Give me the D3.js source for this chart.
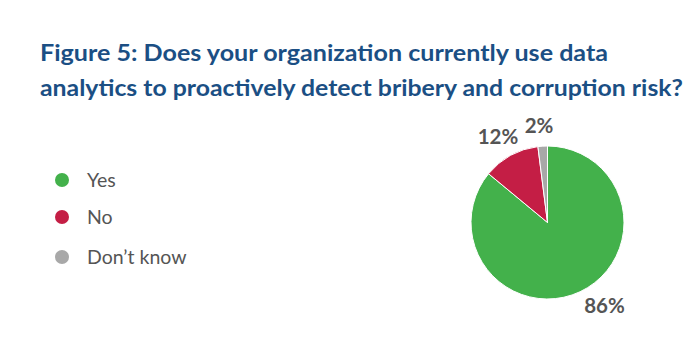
<!DOCTYPE html>
<html><head><meta charset="utf-8">
<script src="https://cdn.jsdelivr.net/npm/d3@7"></script>
<style>body{margin:0;background:#fff}svg{display:block}</style>
</head><body>
<script>
const categories = ["Yes", "No", "Don’t know"];
const values = [86, 12, 2];
const labels = ["86%", "12%", "2%"];
const colors = ["#43b14b", "#c41e45", "#a8a8a8"];
const titleLines = ["Figure 5: Does your organization currently use data", "analytics to proactively detect bribery and corruption risk?"];

const W = 700, H = 359;
const svg = d3.select("body").append("svg").attr("width", W).attr("height", H);

const titleLens = [568, 643];
svg.selectAll("text.title").data(titleLines).enter().append("text")
  .attr("x", 40).attr("y", (d, i) => 61 + i * 35)
  .attr("font-family", "Lato, sans-serif").attr("font-weight", 700)
  .attr("font-size", 23.5).attr("fill", "#1b4f84")
  .attr("textLength", (d, i) => titleLens[i]).attr("lengthAdjust", "spacingAndGlyphs")
  .text(d => d);

const leg = svg.selectAll("g.leg").data(categories).enter().append("g")
  .attr("transform", (d, i) => `translate(62, ${[180, 217, 257][i]})`);
leg.append("circle").attr("r", 7).attr("fill", (d, i) => colors[i]);
leg.append("text").attr("x", 25).attr("y", 6.5).attr("font-family", "Lato, sans-serif")
  .attr("font-size", 19.5).attr("fill", "#555").text(d => d);

const cx = 547.5, cy = 222.5, R = 76.5;
const pie = d3.pie().sort(null)(values);
const arc = d3.arc().innerRadius(0).outerRadius(R);
const g = svg.append("g").attr("transform", `translate(${cx},${cy})`);
g.selectAll("path").data(pie).enter().append("path")
  .attr("d", arc).attr("fill", (d, i) => colors[i]).attr("stroke", "#fff").attr("stroke-width", 1);

const labelPos = [[57, 90.5], [-49.5, -78.5], [-8.5, -89.5]];
g.selectAll("text.lbl").data(pie).enter().append("text")
  .attr("x", (d, i) => labelPos[i][0]).attr("y", (d, i) => labelPos[i][1])
  .attr("text-anchor", "middle").attr("font-family", "Lato, sans-serif").attr("font-weight", 700)
  .attr("font-size", 20.5).attr("fill", "#555").text((d, i) => labels[i]);
</script>
</body></html>
